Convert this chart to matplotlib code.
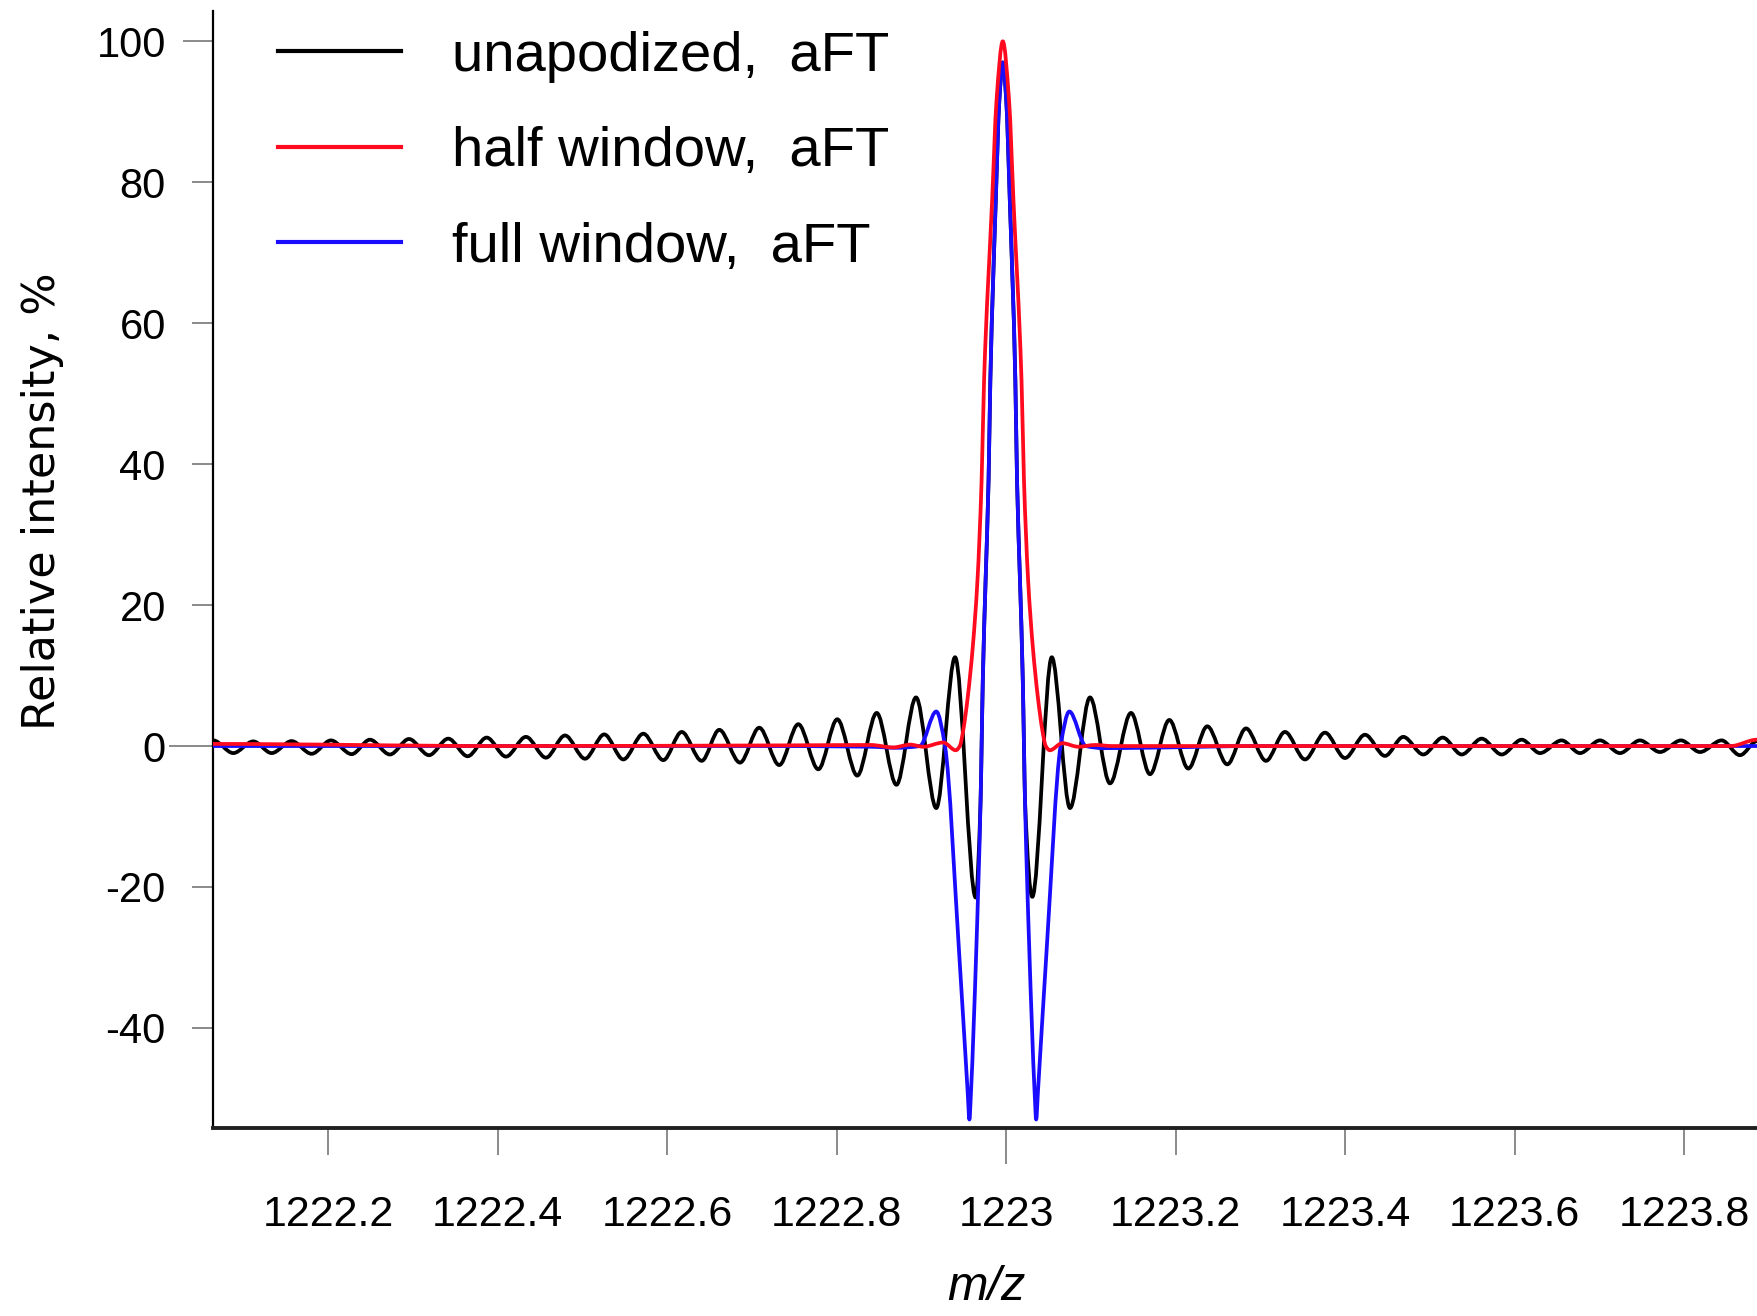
import numpy as np
import matplotlib
matplotlib.use('Agg')
import matplotlib.pyplot as plt
from matplotlib.path import Path
from matplotlib.patches import PathPatch
from matplotlib.lines import Line2D

# ---------------- data ----------------
black_mz = [1222.0643, 1222.0879, 1222.1115, 1222.1332, 1222.1568, 1222.1804, 1222.2032,
            1222.2276, 1222.2492, 1222.2728, 1222.2953, 1222.3189, 1222.3416, 1222.3645,
            1222.3870, 1222.4097, 1222.4333, 1222.4569, 1222.4794, 1222.5030, 1222.5257,
            1222.5482, 1222.5718, 1222.5954, 1222.6171, 1222.6407, 1222.6614, 1222.6859,
            1222.7086, 1222.7322, 1222.7547, 1222.7783, 1222.8007, 1222.8243, 1222.8472,
            1222.8705, 1222.8936, 1222.9175, 1222.9397, 1222.9640,
            1222.9698, 1222.9710, 1222.9724, 1222.9757, 1222.9792, 1222.9813, 1222.9877,
            1222.9919, 1222.9960, 1223.0001, 1223.0043, 1223.0108, 1223.0128, 1223.0163,
            1223.0196, 1223.0210, 1223.0222,
            1223.0308, 1223.0538, 1223.0753, 1223.0989, 1223.1225, 1223.1473, 1223.1697,
            1223.1925, 1223.2149, 1223.2373, 1223.2609, 1223.2830, 1223.3066, 1223.3290,
            1223.3526, 1223.3762, 1223.3998, 1223.4234, 1223.4470, 1223.4686, 1223.4922,
            1223.5151, 1223.5375, 1223.5611, 1223.5847, 1223.6083, 1223.6299, 1223.6555,
            1223.6771, 1223.7007, 1223.7243, 1223.7479, 1223.7715, 1223.7963, 1223.8187,
            1223.8443, 1223.8659, 1223.8860]
black_int = [0.8, -1.0, 0.66, -1.0, 0.7, -1.1, 0.8,
             -1.15, 0.9, -1.2, 1.0, -1.3, 1.05, -1.45,
             1.2, -1.5, 1.3, -1.65, 1.5, -1.8, 1.65,
             -1.9, 1.75, -2.0, 2.0, -2.1, 2.3, -2.35,
             2.6, -2.7, 3.1, -3.3, 3.8, -4.2, 4.7,
             -5.5, 6.9, -8.8, 12.6, -21.5,
             -7.7, 0.0, 9.3, 23.5, 37.7, 51.9, 77.4,
             91.6, 97.0, 91.6, 77.4, 51.9, 37.7, 23.5,
             9.3, 0.0, -7.7,
             -21.4, 12.6, -8.8, 6.9, -5.3, 4.7, -4.0,
             3.7, -3.2, 2.8, -2.6, 2.5, -2.1, 2.0,
             -1.9, 1.9, -1.7, 1.6, -1.4, 1.3, -1.2,
             1.2, -1.2, 1.05, -1.2, 0.9, -1.0, 0.8,
             -1.0, 0.8, -1.0, 0.8, -0.85, 0.8, -0.85,
             0.8, -1.3, 0.7]

blue_mz = [1222.0640, 1222.7000, 1222.8400, 1222.8700, 1222.8981, 1222.9175, 1222.9278,
           1222.9443, 1222.9545, 1222.9566, 1222.9585, 1222.9647, 1222.9698, 1222.9710,
           1222.9724, 1222.9757, 1222.9792, 1222.9813, 1222.9877, 1222.9919, 1222.9960,
           1223.0001, 1223.0043, 1223.0108, 1223.0128, 1223.0163, 1223.0196, 1223.0210,
           1223.0222, 1223.0273, 1223.0335, 1223.0354, 1223.0375, 1223.0477, 1223.0642,
           1223.0745, 1223.0940, 1223.1150, 1223.1600, 1223.3000, 1223.8860]
blue_int = [0.0, 0.0, -0.1, -0.25, 0.0, 4.9, 0.0,
            -29.0, -49.0, -53.0, -49.0, -29.0, -7.7, 0.0,
            9.3, 23.5, 37.7, 51.9, 77.4, 91.6, 97.0,
            91.6, 77.4, 51.9, 37.7, 23.5, 9.3, 0.0,
            -7.7, -29.0, -49.0, -53.0, -49.0, -29.0, 0.0,
            4.9, 0.0, -0.3, -0.25, 0.0, 0.0]

red_mz = [1222.0640, 1222.4000, 1222.7500, 1222.8400, 1222.8668, 1222.8865, 1222.9022,
          1222.9258, 1222.9405, 1222.9453, 1222.9494, 1222.9547, 1222.9606, 1222.9661,
          1222.9710, 1222.9739, 1222.9834, 1222.9886, 1222.9960, 1223.0034, 1223.0086,
          1223.0181, 1223.0210, 1223.0259, 1223.0314, 1223.0373, 1223.0426, 1223.0467,
          1223.0515, 1223.0662, 1223.0850, 1223.1050, 1223.1250, 1223.5000, 1223.8550,
          1223.8860]
red_int = [0.3, 0.0, 0.1, 0.15, -0.2, 0.2, -0.1,
           0.5, -0.6, 0.0, 2.3, 7.0, 14.1, 23.5,
           37.7, 51.9, 77.4, 91.6, 100.0, 91.6, 77.4,
           51.9, 37.7, 23.5, 14.1, 7.0, 2.3, 0.0,
           -0.6, 0.4, -0.1, 0.15, 0.0, 0.0, 0.0,
           0.9]

xticks = [1222.2, 1222.4, 1222.6, 1222.8, 1223.0, 1223.2, 1223.4, 1223.6, 1223.8]
xtick_labels = ['1222.2', '1222.4', '1222.6', '1222.8', '1223', '1223.2', '1223.4', '1223.6', '1223.8']
yticks = [-40, -20, 0, 20, 40, 60, 80, 100]
ytick_labels = ['-40', '-20', '0', '20', '40', '60', '80', '100']

legend_labels = ['unapodized,  aFT', 'half window,  aFT', 'full window,  aFT']
colors = {'black': '#000000', 'red': '#ff0a1e', 'blue': '#1a0dff'}


def smooth_path(x, y):
    """Smooth (monotone cubic Hermite) Bezier path through the read points."""
    x = np.asarray(x, float)
    y = np.asarray(y, float)
    h = np.diff(x)
    d = np.diff(y) / h
    n = len(x)
    m = np.zeros(n)
    for i in range(1, n - 1):
        if d[i - 1] * d[i] > 0:
            w1 = 2 * h[i] + h[i - 1]
            w2 = h[i] + 2 * h[i - 1]
            m[i] = (w1 + w2) / (w1 / d[i - 1] + w2 / d[i])
    verts = [(x[0], y[0])]
    codes = [Path.MOVETO]
    for i in range(n - 1):
        verts += [(x[i] + h[i] / 3, y[i] + m[i] * h[i] / 3),
                  (x[i + 1] - h[i] / 3, y[i + 1] - m[i + 1] * h[i] / 3),
                  (x[i + 1], y[i + 1])]
        codes += [Path.CURVE4] * 3
    return Path(verts, codes)


# ---------------- figure ----------------
W, H = 1757, 1316
fig = plt.figure(figsize=(W / 100, H / 100), dpi=100)
ax = fig.add_axes([213 / W, 1 - 1128 / H, 1 - 213 / W, (1128 - 11) / H])

LW = 2.7
for xs, ys, c, z in [(black_mz, black_int, colors['black'], 2),
                     (blue_mz, blue_int, colors['blue'], 3),
                     (red_mz, red_int, colors['red'], 4)]:
    ax.add_patch(PathPatch(smooth_path(xs, ys), fill=False, edgecolor=c, lw=LW,
                           joinstyle='round', capstyle='round', zorder=z))

ax.set_xlim(1222.064, 1223.886)
ax.set_ylim(-54.2, 104.3)

ax.spines['top'].set_visible(False)
ax.spines['right'].set_visible(False)
ax.spines['left'].set_linewidth(1.6)
ax.spines['bottom'].set_linewidth(2.8)
ax.spines['bottom'].set_color('#202020')

ax.set_xticks(xticks)
ax.set_xticklabels(xtick_labels, family='Liberation Sans', fontsize=31)
ax.set_yticks(yticks)
ax.set_yticklabels(ytick_labels, family='Liberation Sans', fontsize=30)
ax.tick_params(axis='x', direction='out', length=19.4, width=1.4, color='#8a8a8a', pad=29)
ax.tick_params(axis='y', direction='out', length=15, width=1.4, color='#8a8a8a', pad=19)

for t in ax.yaxis.get_major_ticks():
    if abs(t.get_loc()) < 1e-9:
        t.tick1line.set_markersize(32)
        t.tick1line.set_color('black')
    elif abs(t.get_loc() - 100) < 1e-9:
        t.tick1line.set_markersize(21.5)
for t in ax.xaxis.get_major_ticks():
    if abs(t.get_loc() - 1223.0) < 1e-9:
        t.tick1line.set_markersize(26)
        t.tick1line.set_color('#555555')

fig.text(43 / W, 1 - 501 / H, 'Relative intensity, %', rotation=90, ha='center', va='center',
         family='DejaVu Sans', fontsize=32)
fig.text(986 / W, 1 - 1288 / H, 'm/z', ha='center', va='center', family='Liberation Sans',
         style='italic', fontsize=35)

handles = [Line2D([], [], color=colors['black'], lw=3.0),
           Line2D([], [], color=colors['red'], lw=3.0),
           Line2D([], [], color=colors['blue'], lw=3.0)]
ax.legend(handles, legend_labels, loc='upper left',
          bbox_to_anchor=((278 - 213) / (W - 213), (1128 - 31) / (1128 - 11)),
          frameon=False, prop={'family': 'Liberation Sans', 'size': 40.5},
          handlelength=2.19, handletextpad=0.91, labelspacing=0.77,
          borderpad=0, borderaxespad=0)

fig.savefig('out.png', dpi=100)
